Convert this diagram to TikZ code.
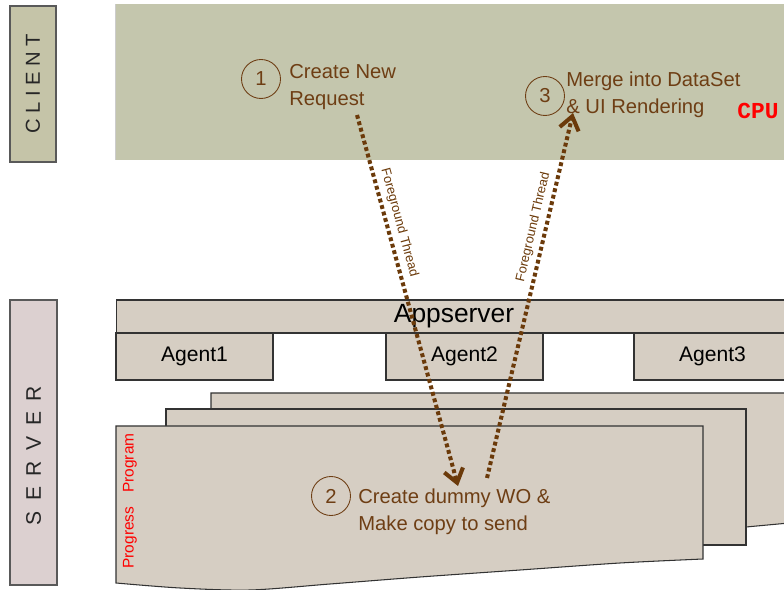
\documentclass[tikz,border=0pt]{standalone}
\usepackage{fontspec}
\setmainfont{Liberation Sans}
\newfontfamily\cpufont{Liberation Mono}
\usetikzlibrary{arrows.meta}
\definecolor{clientfill}{RGB}{196,198,173}
\definecolor{clientlblfill}{RGB}{197,196,168}
\definecolor{serverlblfill}{RGB}{220,208,208}
\definecolor{srvfill}{RGB}{214,206,195}
\definecolor{threadbrown}{RGB}{107,58,10}
\definecolor{textbrown}{RGB}{110,62,20}
\tikzstyle{sidelbl} = [draw=gray!70!black,line width=0.7pt,rotate=90,text=black!85]
\tikzstyle{srvbox} = [draw=black!80,fill=srvfill,line width=0.6pt,inner sep=0pt]
\tikzstyle{agentbox} = [srvbox,minimum width=3.14cm,minimum height=0.94cm,font=\fontsize{12}{14}\selectfont]
\tikzstyle{pagebox} = [draw=black!80,fill=srvfill,line width=0.6pt]
\tikzstyle{stepnum} = [circle,draw=textbrown,line width=0.5pt,minimum size=0.78cm,inner sep=0pt,text=textbrown,font=\fontsize{11.5}{14}\selectfont]
\tikzstyle{steptxt} = [anchor=west,inner sep=0pt,align=left,text=textbrown,font=\fontsize{11.5}{15.3}\selectfont]
\tikzstyle{thread} = [line width=2.3pt,threadbrown,dash pattern=on 2.2pt off 1.6pt,-{Straight Barb[length=7.5pt,width=11pt]}]
\tikzstyle{threadlbl} = [sloped,above=2.5pt,inner sep=0pt,text=threadbrown,font=\fontsize{7.4}{8}\selectfont]

\begin{document}
\begin{tikzpicture}[x=0.02cm,y=-0.02cm]
\useasboundingbox (0,0) rectangle (784,590);
\clip (0,0) rectangle (784,590);

\fill[clientfill] (115,4) rectangle (790,160);
\draw[gray!40,line width=0.5pt] (115,160) -- (115,4);
\node[sidelbl,fill=clientlblfill,minimum width=3.12cm,minimum height=0.92cm,font=\fontsize{11.5}{13}\selectfont] (clientlbl) at (33,84) {C L I E N T};
\node[sidelbl,fill=serverlblfill,minimum width=5.7cm,minimum height=0.94cm,font=\fontsize{12}{14}\selectfont] (serverlbl) at (33.5,442.5) {{\spaceskip=6pt S E R V E R}\hspace*{15pt}};

\node[srvbox,minimum width=13.52cm,minimum height=0.66cm,font=\fontsize{15}{17}\selectfont] (appserver) at (454,316.5) {Appserver};
\foreach \n/\x in {1/194.5,2/464.5,3/712.5}
{
 \node[agentbox] (agent\n) at (\x,356.5) {Agent\n};
}

\filldraw[pagebox] (211,393) -- (800,393) -- (800,522) -- (746,527) -- (211,527) -- cycle;
\filldraw[pagebox] (166,409) rectangle (746,545);
\filldraw[pagebox] (116,426) -- (703,426) -- (703,559) -- plot[smooth] coordinates {(703,559) (620,563) (520,570) (420,577) (330,584) (250,590) (180,588) (116,583)} -- cycle;
\node[rotate=90,text=red,inner sep=0pt,font=\fontsize{8.8}{10}\selectfont] (progname) at (130,501) {Progress\hspace{8pt}Program};

\node[stepnum] (num1) at (261,79) {1};
\node[steptxt] (txt1) at (289,87) {Create New\\Request};
\node[stepnum] (num3) at (545,96) {3};
\node[steptxt] (txt3) at (566,95) {Merge into DataSet\\\& UI Rendering};
\node[text=red,inner sep=0pt,font=\cpufont\bfseries\fontsize{13}{15}\selectfont] (cpu) at (758,111) {CPU};
\node[stepnum] (num2) at (331,496) {2};
\node[steptxt] (txt2) at (358,512) {Create dummy WO \&\\Make copy to send};

\coordinate (reqout) at (357,115);
\coordinate (woin) at (458,486);
\coordinate (woout) at (487,478);
\coordinate (mergein) at (573,113);
\draw[thread] (reqout) -- node[threadlbl,pos=0.3] (fg1) {Foreground Thread} (woin);
\draw[thread] (woout) -- node[threadlbl,pos=0.68] (fg2) {Foreground Thread} (mergein);

\end{tikzpicture}
\end{document}
